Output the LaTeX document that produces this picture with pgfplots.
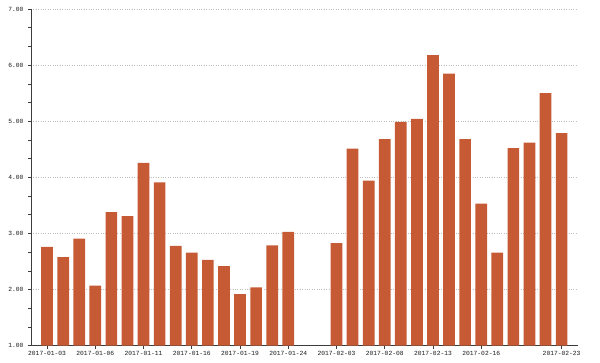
\documentclass[border=0pt]{standalone}
\usepackage{pgfplots}
\pgfplotsset{compat=1.18}
\usepackage{fontspec}
\setmainfont{Liberation Serif}
\newfontfamily\tickfont{Liberation Mono}
\definecolor{barc}{RGB}{198,90,52}
\definecolor{axc}{RGB}{60,60,60}
\definecolor{gridc}{RGB}{190,190,190}
\begin{document}
\begin{tikzpicture}
\useasboundingbox (-31pt,-16.3pt) rectangle (569pt,345.7pt);
\begin{axis}[
  scale only axis,
  width=546.7pt, height=336.7pt,
  at={(0,0)}, anchor=south west,
  xmin=-1, xmax=33,
  ymin=1, ymax=7,
  axis lines=left,
  axis line style={axc, line width=0.7pt, -},
  ybar, bar width=11.7pt,
  xtick={0,3,6,9,12,15,18,21,24,27,32},
  xticklabels={2017-01-03,2017-01-06,2017-01-11,2017-01-16,2017-01-19,2017-01-24,2017-02-03,2017-02-08,2017-02-13,2017-02-16,2017-02-23},
  ytick={1,2,3,4,5,6,7},
  minor y tick num=2,
  tick align=outside,
  major tick length=3pt, minor tick length=3pt,
  tick style={axc, line width=0.6pt},
  ymajorgrids,
  grid style={gridc, dotted, line width=0.7pt},
  tick label style={font=\tickfont\fontsize{6.3}{7}\selectfont, text=black!90},
  /pgf/number format/assume math mode=true,
  /pgf/number format/fixed,
  /pgf/number format/fixed zerofill,
  /pgf/number format/precision=2,
  xticklabel style={yshift=1pt},
  yticklabel style={xshift=-1pt},
  clip=false,
]
\addplot[fill=barc, draw=none, bar shift=0pt] coordinates {
(0,2.76) (1,2.58) (2,2.91) (3,2.07) (4,3.38) (5,3.31) (6,4.26) (7,3.91)
(8,2.78) (9,2.66) (10,2.53) (11,2.42) (12,1.92) (13,2.04) (14,2.79) (15,3.03)
(18,2.83) (19,4.51) (20,3.94) (21,4.68) (22,4.99) (23,5.04) (24,6.18) (25,5.85)
(26,4.68) (27,3.53) (28,2.66) (29,4.52) (30,4.62) (31,5.50) (32,4.79)
};
\end{axis}
\end{tikzpicture}
\end{document}
